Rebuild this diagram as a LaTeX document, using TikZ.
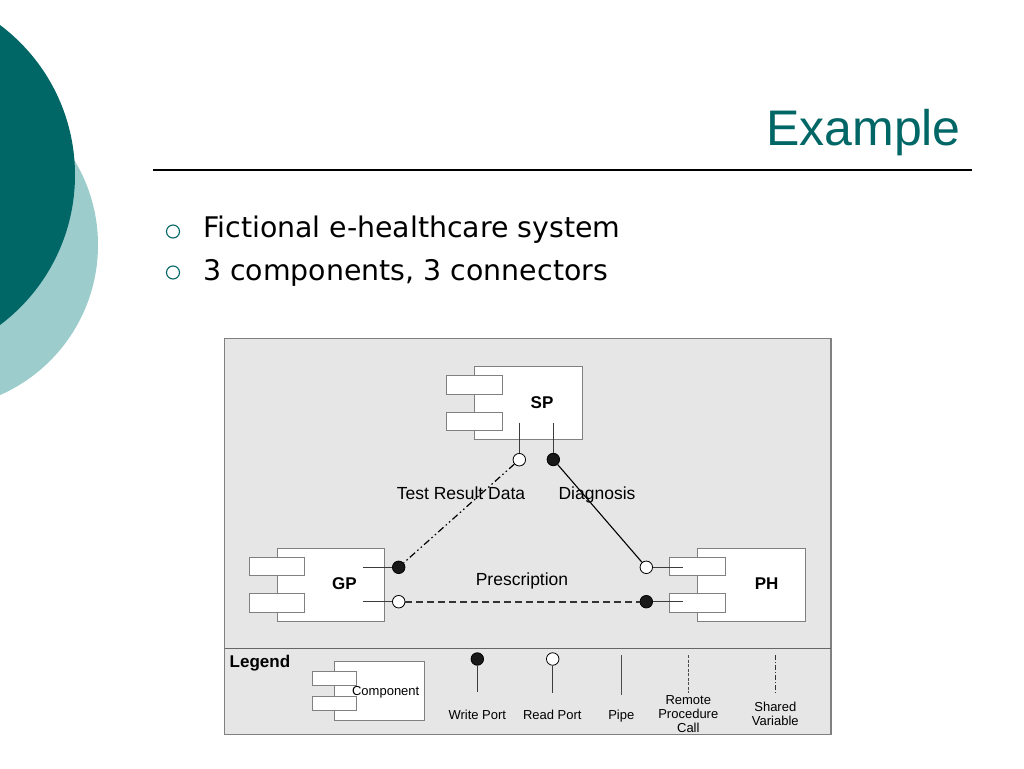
\documentclass[tikz,border=0pt]{standalone}
\usepackage{fontspec}
\setmainfont{Liberation Sans}
\newfontfamily\verd{DejaVu Sans}
\definecolor{tealdark}{RGB}{0,102,102}
\definecolor{teallight}{RGB}{156,204,204}
\definecolor{panelgray}{RGB}{230,230,230}
\definecolor{bordergray}{RGB}{128,128,128}
\definecolor{stemgray}{RGB}{60,60,60}
\begin{document}
\begin{tikzpicture}[x=1pt,y=-1pt,
  compmain/.style={draw=bordergray, fill=white, line width=1pt, inner sep=0pt},
  comptab/.style={draw=bordergray, fill=white, line width=1pt, inner sep=0pt, minimum height=18.5pt, minimum width=55.5pt},
  ltab/.style={draw=bordergray, fill=white, line width=1pt, inner sep=0pt, minimum height=13.6pt, minimum width=44pt},
  openport/.style={circle, draw=black, fill=white, line width=0.8pt, inner sep=0pt, minimum size=12.5pt},
  fullport/.style={circle, draw=black, fill=black!90, line width=0.8pt, inner sep=0pt, minimum size=12.5pt},
  stem/.style={draw=stemgray, line width=1.5pt},
  lbl/.style={font=\fontsize{17.5}{20}\selectfont, anchor=base, inner sep=0pt},
  bold/.style={font=\fontsize{17}{20}\selectfont\bfseries, anchor=base, inner sep=0pt},
  leg/.style={font=\fontsize{13}{15}\selectfont, anchor=base, inner sep=0pt},
  bullettext/.style={font=\verd\fontsize{28.4}{32}\selectfont, anchor=base west, inner sep=0pt},
  bulletmark/.style={circle, draw=tealdark, line width=1.1pt, inner sep=0pt, minimum size=13pt}
]
\useasboundingbox (0,0) rectangle (1024,768);
\fill[white] (0,0) rectangle (1024,768);
% decorative circles
\fill[teallight] (-65.8,245) circle (163.8);
\fill[tealdark] (-112.5,175) circle (187.5);
% title
\node[font=\fontsize{50}{56}\selectfont, text=tealdark, anchor=base east, inner sep=0pt] (title) at (961,145) {Example};
\coordinate (ruleL) at (153,170);
\coordinate (ruleR) at (972,170);
\draw[line width=1.1pt] (ruleL) -- (ruleR);
% bullets
\node[bulletmark] (b1) at (173,231.5) {};
\node[bulletmark] (b2) at (173,272.5) {};
\node[bullettext] (t1) at (203,237) {Fictional e-healthcare system};
\node[bullettext] (t2) at (203,280) {3 components, 3 connectors};
% panel
\fill[panelgray] (224.5,338.5) rectangle (831,734.5);
\draw[bordergray, line width=1.1pt] (224.5,338.5) rectangle (831,734.5);
\coordinate (divL) at (224.5,648.3);
\coordinate (divR) at (831,648.3);
\draw[black!60, line width=1.1pt] (divL) -- (divR);
% SP component
\node[compmain, minimum width=108pt, minimum height=73.3pt] (sp) at (528.3,402.7) {};
\node[comptab] (sptab1) at (474.5,385) {};
\node[comptab] (sptab2) at (474.5,421.5) {};
\node[bold] (splbl) at (542,408.8) {SP};
% GP component
\node[compmain, minimum width=106.6pt, minimum height=72.7pt] (gp) at (331,584.7) {};
\node[comptab] (gptab1) at (277,566.3) {};
\node[comptab] (gptab2) at (277,603.2) {};
\node[bold] (gplbl) at (344.3,589.5) {GP};
% PH component
\node[compmain, minimum width=107.7pt, minimum height=72.7pt] (ph) at (751.2,584.7) {};
\node[comptab] (phtab1) at (697.7,566.3) {};
\node[comptab] (phtab2) at (697.7,603.2) {};
\node[bold] (phlbl) at (766.7,589.5) {PH};
% ports
\node[openport] (sprd) at (519.3,459.7) {};
\node[fullport] (spwr) at (553.3,459.5) {};
\node[fullport] (gpwr) at (398.7,567.3) {};
\node[openport] (gprd) at (398.7,601.7) {};
\node[openport] (phrd) at (646.3,567.3) {};
\node[fullport] (phwr) at (646.3,601.7) {};
\coordinate (sprdS) at (519.3,422.7);
\coordinate (spwrS) at (553.3,422.7);
\coordinate (gpwrS) at (362.7,567.3);
\coordinate (gprdS) at (362.7,601.7);
\coordinate (phrdS) at (682.7,567.3);
\coordinate (phwrS) at (682.7,601.7);
\draw[stem] (sprdS) -- (sprd);
\draw[stem] (spwrS) -- (spwr);
\draw[stem] (gpwrS) -- (gpwr);
\draw[stem] (gprdS) -- (gprd);
\draw[stem] (phrdS) -- (phrd);
\draw[stem] (phwrS) -- (phwr);
% connectors
\draw[black, line width=1.2pt, dash pattern=on 7pt off 3pt on 1.5pt off 3pt on 1.5pt off 3pt] (sprd) -- (gpwr);
\draw[black, line width=1.1pt] (spwr) -- (phrd);
\draw[black!80, line width=1.7pt, dash pattern=on 7pt off 4pt] (gprd) -- (phwr);
% connector labels
\node[lbl] (ltrd) at (461,499.3) {Test Result Data};
\node[lbl] (ldia) at (597,499.3) {Diagnosis};
\node[lbl] (lpre) at (522,585) {Prescription};
% legend
\node[font=\fontsize{17}{20}\selectfont\bfseries, anchor=base west, inner sep=0pt] (legend) at (229.5,667) {Legend};
\node[compmain, minimum width=90pt, minimum height=58.6pt] (lcomp) at (379.3,691) {};
\node[ltab] (ltab1) at (334.3,678.5) {};
\node[ltab] (ltab2) at (334.3,703.7) {};
\node[leg] (lcomplbl) at (385.7,695.3) {Component};
\node[fullport] (lwr) at (477.3,659) {};
\coordinate (lwrS) at (477.3,692.3);
\draw[stem] (lwr) -- (lwrS);
\node[leg] (lwrlbl) at (477.3,719.4) {Write Port};
\node[openport] (lrd) at (552.7,659) {};
\coordinate (lrdS) at (552.7,692.7);
\draw[stem] (lrd) -- (lrdS);
\node[leg] (lrdlbl) at (552.3,719.4) {Read Port};
\coordinate (pipeT) at (621.3,655);
\coordinate (pipeB) at (621.3,695);
\draw[black!70, line width=1pt] (pipeT) -- (pipeB);
\node[leg] (lpipe) at (621.3,719.4) {Pipe};
\coordinate (rpcT) at (688.3,655);
\coordinate (rpcB) at (688.3,693);
\draw[black!70, line width=1.1pt, dash pattern=on 3pt off 1.5pt] (rpcT) -- (rpcB);
\node[leg] (lrpc1) at (688.3,704) {Remote};
\node[leg] (lrpc2) at (688.3,718.7) {Procedure};
\node[leg] (lrpc3) at (688.3,732.5) {Call};
\coordinate (svT) at (775.3,655);
\coordinate (svB) at (775.3,693);
\draw[black!80, line width=1pt, dash pattern=on 5pt off 2pt on 1pt off 2pt] (svT) -- (svB);
\node[leg] (lsv1) at (775.3,711.3) {Shared};
\node[leg] (lsv2) at (775.3,725.7) {Variable};
\end{tikzpicture}
\end{document}
